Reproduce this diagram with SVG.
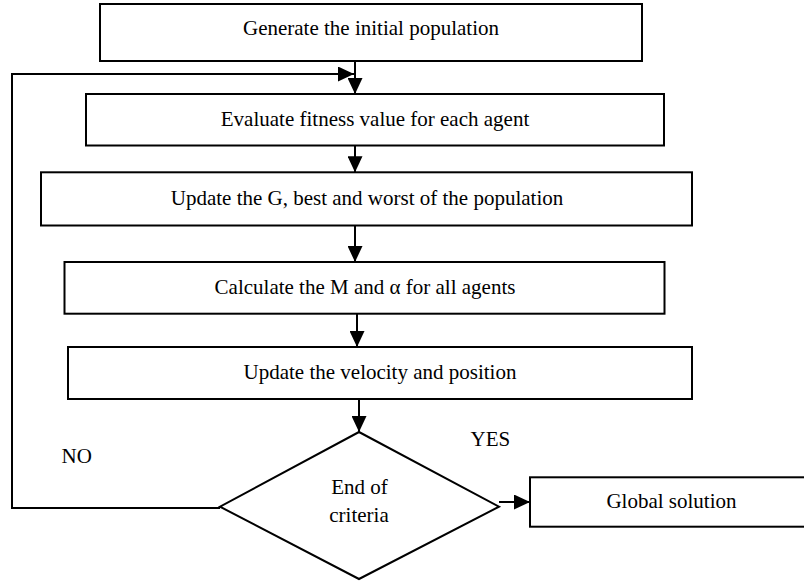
<svg xmlns="http://www.w3.org/2000/svg" width="804" height="581" viewBox="0 0 804 581">
  <defs>
    <marker id="ah" markerUnits="userSpaceOnUse" markerWidth="16" markerHeight="15" refX="16" refY="7.5" orient="auto">
      <path d="M0,0 L16,7.5 L0,15 z" fill="#000"/>
    </marker>
    <style>
      .box { fill: #fff; stroke: #000; stroke-width: 2; }
      .lbl { font-family: "Liberation Serif", "Times New Roman", serif; font-size: 21px; fill: #000; text-anchor: middle; }
      .free { font-family: "Liberation Serif", "Times New Roman", serif; font-size: 21px; fill: #000; }
      .conn { fill: none; stroke: #000; stroke-width: 2; }
    </style>
  </defs>
  <rect x="0" y="0" width="804" height="581" fill="#fff"/>

  <g id="connectors">
    <path class="conn" d="M355,61 V94" marker-end="url(#ah)"/>
    <path class="conn" d="M355,145.5 V172.3" marker-end="url(#ah)"/>
    <path class="conn" d="M355,225.5 V262" marker-end="url(#ah)"/>
    <path class="conn" d="M357,313.7 V347" marker-end="url(#ah)"/>
    <path class="conn" d="M359,399 V432" marker-end="url(#ah)"/>
    <path class="conn" d="M220,508 H12 V74 H354" marker-end="url(#ah)"/>
    <path class="conn" d="M499,502 H530" marker-end="url(#ah)"/>
  </g>

  <g id="n1">
    <rect class="box" x="100" y="4" width="542" height="57"/>
    <text class="lbl" x="371" y="35">Generate the initial population</text>
  </g>
  <g id="n2">
    <rect class="box" x="86" y="94" width="578" height="51.5"/>
    <text class="lbl" x="375" y="126">Evaluate fitness value for each agent</text>
  </g>
  <g id="n3">
    <rect class="box" x="41" y="172.3" width="651" height="53.2"/>
    <text class="lbl" x="367" y="205">Update the G, best and worst of the population</text>
  </g>
  <g id="n4">
    <rect class="box" x="64.5" y="262" width="600" height="51.7"/>
    <text class="lbl" x="365" y="294">Calculate the M and α for all agents</text>
  </g>
  <g id="n5">
    <rect class="box" x="68" y="347" width="624" height="52"/>
    <text class="lbl" x="380" y="379">Update the velocity and position</text>
  </g>
  <g id="n6">
    <polygon class="box" points="359,432 499,506.7 359,579 220,506.7"/>
    <text class="lbl" x="359.5" y="494">End of</text>
    <text class="lbl" x="359" y="522">criteria</text>
  </g>
  <g id="n7">
    <rect class="box" x="530" y="477.3" width="280" height="49.4"/>
    <text class="lbl" x="671.5" y="508">Global solution</text>
  </g>
  <g id="labels">
    <text class="free" x="470.5" y="446">YES</text>
    <text class="free" x="61.5" y="463">NO</text>
  </g>
</svg>
